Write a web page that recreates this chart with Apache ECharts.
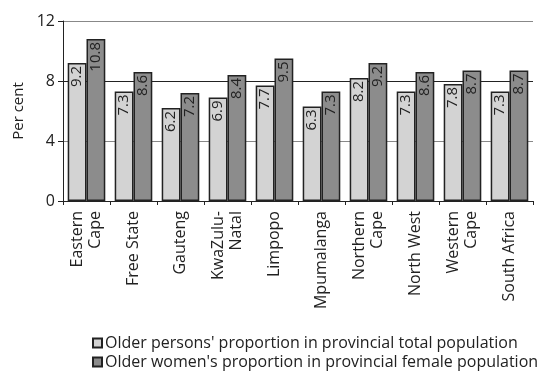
<!DOCTYPE html>
<html>
<head>
<meta charset="utf-8">
<script src="https://cdn.jsdelivr.net/npm/echarts@6/dist/echarts.min.js"></script>
<style>
  html, body { margin: 0; padding: 0; background: #fff; }
  #chart { width: 554px; height: 374px; }
</style>
</head>
<body>
<div id="chart"></div>
<script>
// provinces
var provinces = ['Eastern\nCape', 'Free State', 'Gauteng', 'KwaZulu-\nNatal', 'Limpopo',
                 'Mpumalanga', 'Northern\nCape', 'North West', 'Western\nCape', 'South Africa'];
// older persons, share of total population (%)
var olderTotal = [9.2, 7.3, 6.2, 6.9, 7.7, 6.3, 8.2, 7.3, 7.8, 7.3];
// older women, share of female population (%)
var olderWomen = [10.8, 8.6, 7.2, 8.4, 9.5, 7.3, 9.2, 8.6, 8.7, 8.7];
var seriesNames = ["Older persons' proportion in provincial total population",
                   "Older women's proportion in provincial female population"];
var yTicks = [0, 4, 8, 12];

var FONT = 'Open Sans';
var myChart = echarts.init(document.getElementById('chart'));

var barLabel = {
    show: true,
    position: 'insideTop',
    rotate: 90,
    align: 'right',
    verticalAlign: 'middle',
    distance: 3,
    fontFamily: FONT,
    fontSize: 15,
    color: '#222'
};

// two single-row legends, stacked
var legendBase = {
    left: 92,
    padding: 0,
    itemWidth: 9,
    itemHeight: 9,
    itemGap: 0,
    icon: 'rect',
    textStyle: { fontFamily: FONT, fontSize: 16, color: '#222', padding: [0, 0, 0, -2] }
};

myChart.setOption({
    animation: false,
    textStyle: { fontFamily: FONT },
    grid: { left: 63, right: 21, top: 21, bottom: 173 },
    legend: [
        echarts.util.extend({ top: 335, data: [seriesNames[0]] }, legendBase),
        echarts.util.extend({ top: 354, data: [seriesNames[1]] }, legendBase)
    ],
    xAxis: {
        type: 'category',
        data: provinces,
        axisLine: { lineStyle: { color: '#222', width: 1 } },
        axisTick: { show: true, length: 4, lineStyle: { color: '#222' } },
        axisLabel: {
            rotate: 90,
            interval: 0,
            fontFamily: FONT,
            fontSize: 16,
            color: '#222',
            lineHeight: 18,
            margin: 10
        }
    },
    yAxis: {
        type: 'value',
        min: 0,
        max: yTicks[yTicks.length - 1],
        interval: 4,
        name: 'Per cent',
        nameLocation: 'middle',
        nameGap: 37,
        nameTextStyle: { fontFamily: FONT, fontSize: 15, color: '#222' },
        axisLine: { show: true, lineStyle: { color: '#222' } },
        axisTick: { show: true, length: 5, lineStyle: { color: '#222' } },
        axisLabel: { fontFamily: FONT, fontSize: 16, color: '#222', margin: 8 },
        splitLine: { lineStyle: { color: ['#888', '#888', '#222', '#888'], width: 1 } }
    },
    series: [
        {
            name: seriesNames[0],
            type: 'bar',
            data: olderTotal,
            barGap: '0%',
            barCategoryGap: '20%',
            itemStyle: { color: '#d3d3d3', borderColor: '#222', borderWidth: 1.5 },
            label: barLabel
        },
        {
            name: seriesNames[1],
            type: 'bar',
            data: olderWomen,
            itemStyle: { color: '#8c8c8c', borderColor: '#222', borderWidth: 1.5 },
            label: barLabel
        }
    ]
});
</script>
</body>
</html>
